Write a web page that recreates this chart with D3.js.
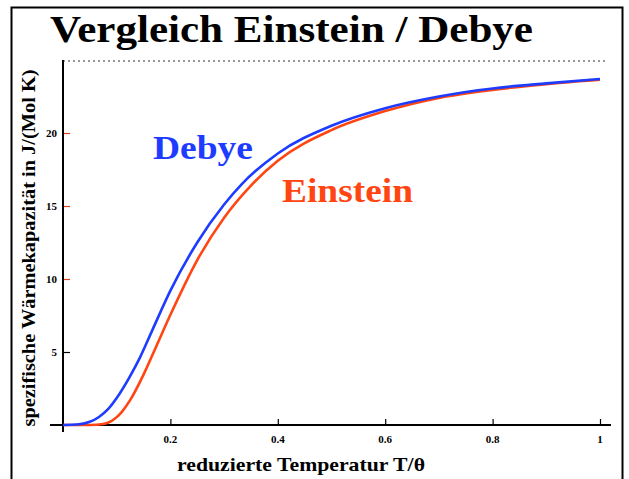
<!DOCTYPE html>
<html><head><meta charset="utf-8">
<script src="https://cdn.jsdelivr.net/npm/d3@7"></script>
<style>body{margin:0;background:#fff}svg{display:block}</style>
</head><body>
<svg id="c" width="629" height="479"></svg>
<script>
const title = "Vergleich Einstein / Debye";
const xLabel = "reduzierte Temperatur T/θ";
const yLabel = "spezifische Wärmekapazität in J/(Mol K)";
const xTicks = [0.2, 0.4, 0.6, 0.8, 1];
const xTickLabels = ["0.2", "0.4", "0.6", "0.8", "1"];
const yTicks = [5, 10, 15, 20];
const yTickLabels = ["5", "10", "15", "20"];
const limit3R = 24.94;
const debyeT = [0, 0.03, 0.05, 0.067, 0.083, 0.1, 0.125, 0.143, 0.167, 0.2, 0.25, 0.3, 0.333, 0.4, 0.5, 0.6, 0.7, 0.8, 0.9, 1.0];
const debyeC = [0, 0.05, 0.22, 0.55, 1.05, 1.85, 3.35, 4.6, 6.55, 9.2, 12.5, 15.1, 16.5, 18.6, 20.5, 21.7, 22.5, 23.05, 23.4, 23.7];
const einsteinT = [0, 0.05, 0.075, 0.09, 0.1, 0.11, 0.125, 0.15, 0.175, 0.2, 0.25, 0.3, 0.35, 0.4, 0.5, 0.6, 0.7, 0.8, 0.9, 1.0];
const einsteinC = [0, 0.0, 0.07, 0.27, 0.54, 0.92, 1.7, 3.45, 5.5, 7.55, 11.3, 14.2, 16.4, 18.1, 20.2, 21.5, 22.4, 22.95, 23.35, 23.65];

const svg = d3.select("#c");
const x = d3.scaleLinear().domain([0, 1]).range([63, 600]);
const y = d3.scaleLinear().domain([0, 25]).range([425, 60]);
const serif = "'Liberation Serif','Times New Roman',serif";

// frame
svg.append("rect").attr("x", 11.5).attr("y", 7.5).attr("width", 611).attr("height", 490)
  .attr("fill", "none").attr("stroke", "#000").attr("stroke-width", 2);

// title
svg.append("text").attr("x", 50).attr("y", 42).text(title)
  .attr("font-family", serif).attr("font-weight", "bold").attr("font-size", 38)
  .attr("textLength", 483).attr("lengthAdjust", "spacingAndGlyphs");

// dashed 3R line
svg.append("line").attr("x1", x(0)).attr("x2", 607).attr("y1", y(limit3R)).attr("y2", y(limit3R))
  .attr("stroke", "#777").attr("stroke-width", 1.5).attr("stroke-dasharray", "2,3");

// axes
const xAxis = d3.axisTop(x).tickValues(xTicks).tickSize(6).tickFormat("");
const gx = svg.append("g").attr("transform", `translate(0,${y(0)})`).call(xAxis);
gx.select(".domain").remove();
gx.selectAll(".tick line").attr("stroke", "#000").attr("stroke-width", 1.2);
const yAxis = d3.axisRight(y).tickValues(yTicks).tickSize(7).tickFormat("");
const gy = svg.append("g").attr("transform", `translate(${x(0)},0)`).call(yAxis);
gy.select(".domain").remove();
gy.selectAll(".tick line").attr("stroke", (d) => d === 5 ? "#000" : "#e0401a").attr("stroke-width", 1.2);

svg.append("line").attr("x1", 50).attr("x2", 611).attr("y1", y(0)).attr("y2", y(0))
  .attr("stroke", "#000").attr("stroke-width", 2);
svg.append("line").attr("x1", x(0)).attr("x2", x(0)).attr("y1", 60).attr("y2", 432)
  .attr("stroke", "#000").attr("stroke-width", 2);

// tick labels
svg.selectAll(".xt").data(xTicks).enter().append("text")
  .attr("x", d => x(d)).attr("y", 443).attr("text-anchor", "middle")
  .text((d, i) => xTickLabels[i])
  .attr("font-family", serif).attr("font-weight", "bold").attr("font-size", 11);
svg.selectAll(".yt").data(yTicks).enter().append("text")
  .attr("x", 57).attr("y", d => y(d) + 4).attr("text-anchor", "end")
  .text((d, i) => yTickLabels[i])
  .attr("font-family", serif).attr("font-weight", "bold").attr("font-size", 11);

// axis labels
svg.append("text").attr("x", 301).attr("y", 471).attr("text-anchor", "middle").text(xLabel)
  .attr("font-family", serif).attr("font-weight", "bold").attr("font-size", 19)
  .attr("textLength", 248).attr("lengthAdjust", "spacingAndGlyphs");
svg.append("text").attr("transform", "translate(35,248) rotate(-90)").attr("text-anchor", "middle").text(yLabel)
  .attr("font-family", serif).attr("font-weight", "bold").attr("font-size", 18)
  .attr("textLength", 357).attr("lengthAdjust", "spacingAndGlyphs");

// curves
const line = d3.line().x(d => x(d[0])).y(d => y(d[1])).curve(d3.curveMonotoneX);
svg.append("path").datum(einsteinT.map((t, i) => [t, einsteinC[i]])).attr("d", line)
  .attr("fill", "none").attr("stroke", "#ff4612").attr("stroke-width", 2.6);
svg.append("path").datum(debyeT.map((t, i) => [t, debyeC[i]])).attr("d", line)
  .attr("fill", "none").attr("stroke", "#1e3cff").attr("stroke-width", 2.6);

// series labels
svg.append("text").attr("x", 153).attr("y", 159).text("Debye")
  .attr("font-family", serif).attr("font-weight", "bold").attr("font-size", 33).attr("fill", "#1e3cff")
  .attr("textLength", 100).attr("lengthAdjust", "spacingAndGlyphs");
svg.append("text").attr("x", 282).attr("y", 202).text("Einstein")
  .attr("font-family", serif).attr("font-weight", "bold").attr("font-size", 33).attr("fill", "#ff4612")
  .attr("textLength", 131).attr("lengthAdjust", "spacingAndGlyphs");
</script>
</body></html>
